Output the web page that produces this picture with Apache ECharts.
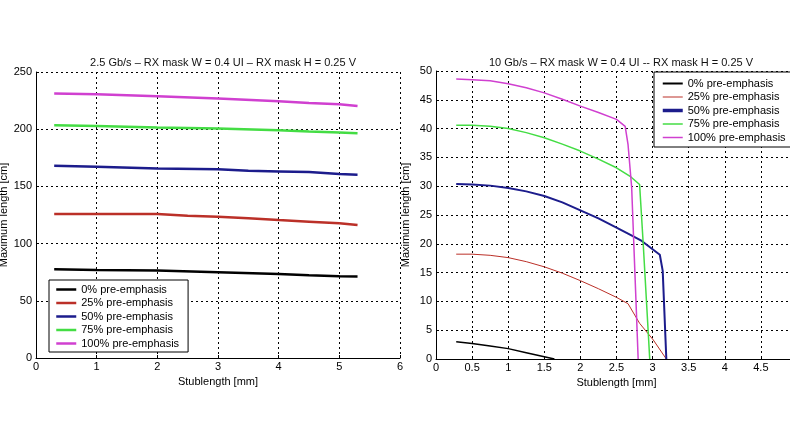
<!DOCTYPE html>
<html>
<head>
<meta charset="utf-8">
<script src="https://cdn.jsdelivr.net/npm/echarts@6/dist/echarts.min.js"></script>
<style>html,body{margin:0;padding:0;background:#fff}#c{width:790px;height:444px}</style>
</head>
<body>
<div id="c"></div>
<script>
var seriesNames = ['0% pre-emphasis', '25% pre-emphasis', '50% pre-emphasis', '75% pre-emphasis', '100% pre-emphasis'];
var colors = ['#000000', '#bb3028', '#1c1c8c', '#44dd44', '#d040d0'];

// Left chart: 2.5 Gb/s  [stub length mm, max length cm]
var left0 = [[0.3,77.6],[1,77],[2,76.5],[3,75],[4,73.5],[4.5,72.3],[5,71.5],[5.3,71.2]];
var left25 = [[0.3,125.9],[2,125.9],[2.5,124.4],[3,123.5],[3.5,122.1],[4,120.6],[4.5,119.2],[5,117.8],[5.3,116.3]];
var left50 = [[0.3,168.0],[1,167.1],[2,165.7],[3,164.9],[3.5,163.6],[4,163.1],[4.5,162.5],[5,160.8],[5.3,160.2]];
var left75 = [[0.3,203.5],[1,202.9],[2,201.5],[3,200.6],[4,199.1],[4.5,198.0],[5,197.1],[5.3,196.5]];
var left100 = [[0.3,231.2],[1,230.5],[2,228.8],[3,226.8],[4,224.4],[4.5,223.0],[5,221.8],[5.3,220.3]];

// Right chart: 10 Gb/s
var right0 = [[0.28,3.0],[0.5,2.7],[0.75,2.25],[1,1.8],[1.25,1.1],[1.5,0.4],[1.64,0]];
var right25 = [[0.28,18.2],[0.5,18.2],[0.75,18.0],[1,17.6],[1.25,16.9],[1.5,16.0],[1.75,14.9],[2,13.6],[2.25,12.2],[2.5,10.7],[2.66,9.6],[2.82,6.2],[3.01,3.3],[3.19,0]];
var right50 = [[0.28,30.4],[0.5,30.3],[0.75,30.1],[1,29.7],[1.25,29.1],[1.5,28.3],[1.75,27.2],[2,25.8],[2.25,24.4],[2.5,22.8],[2.7,21.5],[2.85,20.5],[3.1,18.1],[3.14,15.3],[3.19,0]];
var right75 = [[0.28,40.6],[0.5,40.6],[0.75,40.4],[1,40.0],[1.25,39.3],[1.5,38.4],[1.75,37.3],[2,36.1],[2.25,34.7],[2.5,33.2],[2.7,31.6],[2.82,30.3],[2.87,20],[2.94,4.5],[2.96,0]];
var right100 = [[0.28,48.6],[0.5,48.5],[0.75,48.3],[1,47.8],[1.25,47.1],[1.5,46.2],[1.75,45.1],[2,43.9],[2.25,42.8],[2.5,41.6],[2.62,40.4],[2.66,37.2],[2.71,29.8],[2.77,10],[2.8,0]];

var leftTitle = '2.5 Gb/s \u2013 RX mask W = 0.4 UI \u2013 RX mask H = 0.25 V';
var rightTitle = '10 Gb/s \u2013 RX mask W = 0.4 UI -- RX mask H = 0.25 V';
var xName = 'Stublength [mm]';
var yName = 'Maximum length [cm]';

var leftData = [left0, left25, left50, left75, left100];
var rightData = [right0, right25, right50, right75, right100];
var leftWidths = [2.5, 2.5, 2.5, 2.5, 2.5];
var rightWidths = [1.5, 1, 2, 1.5, 1.5];
var rightLegendWidths = [2, 1, 3.5, 1.5, 1.5];

var FONT = 'Liberation Sans';
var dotted = {show: true, lineStyle: {color: '#000', width: 1, type: [2, 3]}};
var axisLine = {show: true, lineStyle: {color: '#000', width: 1}};
var tick = {show: true, inside: true, length: 3, lineStyle: {color: '#000'}};
var lbl = {color: '#000', fontSize: 11, fontFamily: FONT};
var hiddenSymbol = {color: 'rgba(0,0,0,0)', borderColor: 'rgba(0,0,0,0)', borderWidth: 0, opacity: 0};

var series = [];
leftData.forEach(function (d, i) {
  series.push({name: seriesNames[i], type: 'line', xAxisIndex: 0, yAxisIndex: 0, data: d,
    symbol: 'none', color: colors[i], lineStyle: {width: leftWidths[i], color: colors[i]}, animation: false});
});
rightData.forEach(function (d, i) {
  series.push({name: seriesNames[i], type: 'line', xAxisIndex: 1, yAxisIndex: 1, data: d,
    symbol: 'none', color: colors[i], lineStyle: {width: rightWidths[i], color: colors[i]}, animation: false});
});

var chart = echarts.init(document.getElementById('c'), null, {renderer: 'canvas'});
chart.setOption({
  backgroundColor: '#fff',
  animation: false,
  title: [
    {text: leftTitle, left: 218, top: 52, textAlign: 'center', textStyle: {fontSize: 11, fontWeight: 'normal', color: '#111', fontFamily: FONT}},
    {text: rightTitle, left: 616, top: 52, textAlign: 'center', textStyle: {fontSize: 11, fontWeight: 'normal', color: '#111', fontFamily: FONT}}
  ],
  grid: [
    {left: 36, top: 72, width: 364, height: 286, outerBoundsMode: 'none', containLabel: false},
    {left: 436, top: 71, width: 361, height: 288, outerBoundsMode: 'none', containLabel: false}
  ],
  legend: [
    {orient: 'vertical', left: 49, top: 280, padding: [4, 9, 3, 6], itemGap: 2.5, itemWidth: 20, itemHeight: 10.8,
      backgroundColor: '#fff', borderColor: '#000', borderWidth: 1, selectedMode: false,
      itemStyle: hiddenSymbol,
      textStyle: {fontSize: 11, color: '#000', fontFamily: FONT},
      data: seriesNames.map(function (n, i) { return {name: n, itemStyle: hiddenSymbol, lineStyle: {width: leftWidths[i], color: colors[i]}}; })},
    {orient: 'vertical', left: 654, top: 72, padding: [6, 10, 4, 7], itemGap: 2.5, itemWidth: 20, itemHeight: 10.8,
      backgroundColor: '#fff', borderColor: '#000', borderWidth: 1, selectedMode: false,
      itemStyle: hiddenSymbol,
      textStyle: {fontSize: 11, color: '#000', fontFamily: FONT},
      data: seriesNames.map(function (n, i) { return {name: n, itemStyle: hiddenSymbol, lineStyle: {width: rightLegendWidths[i], color: colors[i]}}; })}
  ],
  xAxis: [
    {type: 'value', gridIndex: 0, min: 0, max: 6, interval: 1, name: xName, nameLocation: 'middle', nameGap: 18,
      nameTextStyle: {fontSize: 11, color: '#000', fontFamily: FONT},
      axisLine: axisLine, axisTick: tick, axisLabel: Object.assign({margin: 3}, lbl), splitLine: dotted},
    {type: 'value', gridIndex: 1, min: 0, max: 5, interval: 0.5, name: xName, nameLocation: 'middle', nameGap: 18,
      nameTextStyle: {fontSize: 11, color: '#000', fontFamily: FONT},
      axisLine: axisLine, axisTick: tick, axisLabel: Object.assign({margin: 3}, lbl), splitLine: dotted}
  ],
  yAxis: [
    {type: 'value', gridIndex: 0, min: 0, max: 250, interval: 50, name: yName, nameLocation: 'middle', nameGap: 22,
      nameTextStyle: {fontSize: 11, color: '#000', fontFamily: FONT},
      axisLine: axisLine, axisTick: tick, axisLabel: Object.assign({margin: 4}, lbl), splitLine: dotted},
    {type: 'value', gridIndex: 1, min: 0, max: 50, interval: 5, name: yName, nameLocation: 'middle', nameGap: 25,
      nameTextStyle: {fontSize: 11, color: '#000', fontFamily: FONT},
      axisLine: axisLine, axisTick: tick, axisLabel: Object.assign({margin: 4}, lbl), splitLine: dotted}
  ],
  series: series
});
</script>
</body>
</html>
